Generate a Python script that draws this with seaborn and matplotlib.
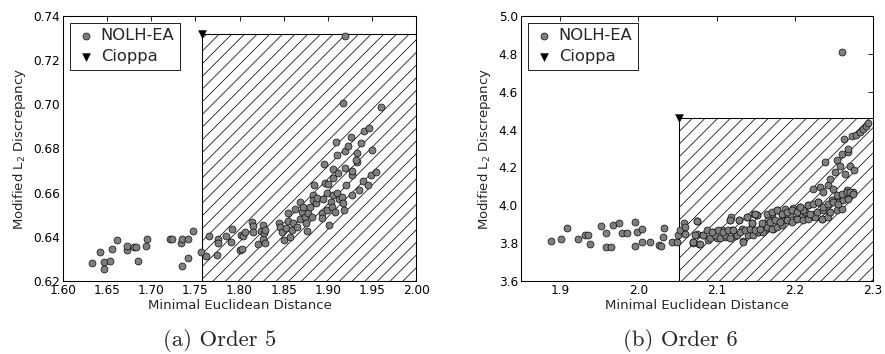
import matplotlib
matplotlib.use("Agg")
import matplotlib.pyplot as plt
import seaborn as sns
import pandas as pd

# ---------------- data ----------------
# (a) Order 5
nolh5_x = [1.633, 1.642, 1.647, 1.647, 1.653, 1.655, 1.661, 1.672, 1.673, 1.680, 1.683, 1.685,
           1.694, 1.695, 1.721, 1.723, 1.734, 1.735, 1.735, 1.742, 1.742, 1.747, 1.756, 1.762,
           1.766, 1.7745, 1.7756, 1.776, 1.7843, 1.790, 1.791, 1.800, 1.802, 1.8025, 1.8036,
           1.806, 1.8138, 1.8157, 1.8157, 1.8213, 1.824, 1.8263, 1.8263, 1.8278, 1.829, 1.829,
           1.845, 1.846, 1.8478, 1.8508, 1.853, 1.8546, 1.8553, 1.857, 1.859, 1.861, 1.863,
           1.865, 1.868, 1.8686, 1.8705, 1.8723, 1.874, 1.875, 1.876, 1.878, 1.880, 1.882,
           1.883, 1.8836, 1.8845, 1.8866, 1.888, 1.893, 1.894, 1.8946, 1.8958, 1.8965, 1.8986,
           1.8996, 1.9006, 1.9018, 1.9033, 1.9045, 1.9056, 1.9056, 1.9063, 1.9083, 1.9093,
           1.9101, 1.911, 1.912, 1.913, 1.9158, 1.9176, 1.919, 1.920, 1.9185, 1.9207, 1.9226,
           1.9263, 1.9272, 1.928, 1.928, 1.9328, 1.9335, 1.9358, 1.938, 1.9403, 1.941, 1.946,
           1.949, 1.9498, 1.9547, 1.920, 1.9176, 1.960, 1.947, 1.932]
nolh5_y = [0.6283, 0.6330, 0.6285, 0.6256, 0.6290, 0.6346, 0.6387, 0.6340, 0.6357, 0.6354,
           0.6354, 0.6290, 0.6360, 0.6389, 0.6390, 0.6390, 0.6371, 0.6392, 0.6268, 0.6304,
           0.6392, 0.6425, 0.6330, 0.6313, 0.6404, 0.6318, 0.6389, 0.6370, 0.6404, 0.6377,
           0.6434, 0.6340, 0.6408, 0.6345, 0.6404, 0.6423, 0.6467, 0.6449, 0.6423, 0.6368,
           0.6426, 0.6455, 0.6389, 0.6416, 0.6371, 0.6431, 0.6461, 0.6443, 0.6423, 0.6386,
           0.6439, 0.6473, 0.6506, 0.6398, 0.6431, 0.6464, 0.6528, 0.6446, 0.6558, 0.6479,
           0.6514, 0.6537, 0.6489, 0.6464, 0.6428, 0.6507, 0.6537, 0.6489, 0.6590, 0.6567,
           0.6635, 0.6555, 0.6575, 0.6510, 0.6484, 0.6570, 0.6728, 0.6643, 0.6597, 0.6521,
           0.6638, 0.6454, 0.6559, 0.6534, 0.6706, 0.6665, 0.6590, 0.6514, 0.6831, 0.6597,
           0.6771, 0.6691, 0.6570, 0.6582, 0.6555, 0.6711, 0.6790, 0.6521, 0.6635, 0.6813,
           0.6854, 0.6680, 0.6700, 0.6590, 0.6740, 0.6781, 0.6612, 0.6824, 0.6654, 0.6880,
           0.6635, 0.6680, 0.6793, 0.6695, 0.7310, 0.7008, 0.6987, 0.6893, 0.6750]
cioppa5_x = [1.757]
cioppa5_y = [0.7318]

# (b) Order 6
nolh6_x = [1.8884, 1.9015, 1.9084, 1.9229, 1.9322, 1.9357, 1.9386, 1.9519, 1.9587, 1.9583,
           1.9655, 1.968, 1.9749, 1.9791, 1.9851, 1.9957, 1.9961, 1.9987, 2.0043, 2.0043,
           2.0149, 2.026, 2.029, 2.0333, 2.032, 2.0434, 2.049, 2.0507, 2.0533, 2.0588, 2.0597,
           2.0597, 2.0703, 2.0746, 2.0746,
           2.0754, 2.0725, 2.0703, 2.078, 2.083, 2.0894, 2.0958, 2.1002, 2.1066, 2.1108, 2.1172,
           2.1181, 2.1194, 2.1236, 2.1291, 2.1322, 2.1334, 2.1385, 2.1419, 2.145, 2.1479, 2.1513,
           2.1534, 2.1577, 2.162, 2.1661, 2.1705, 2.1725, 2.1769, 2.179, 2.1833, 2.1875, 2.1897,
           2.1939, 2.1981, 2.2016, 2.2067, 2.2089, 2.2131, 2.2173, 2.2195, 2.2229, 2.2259,
           2.2301, 2.2323, 2.2344, 2.2365, 2.2387, 2.2408, 2.2429, 2.245, 2.2472, 2.2493,
           2.2514, 2.2536, 2.2557, 2.2578, 2.26, 2.2613, 2.263, 2.2642, 2.2664, 2.2685, 2.2706,
           2.2728, 2.2741, 2.2757, 2.2783, 2.2834, 2.2876, 2.2911, 2.294, 2.2685, 2.2608,
           2.0704, 2.0789, 2.0831, 2.0917, 2.0981, 2.1044, 2.1108, 2.1172, 2.1257, 2.1334,
           2.1407, 2.1470, 2.1534, 2.1598,
           2.0874, 2.0938, 2.1023, 2.1087, 2.1151, 2.1215, 2.1300, 2.1364, 2.1428, 2.1492,
           2.1556, 2.1641, 2.1705, 2.1769, 2.1833,
           2.1172, 2.1291, 2.1385, 2.1449, 2.1513, 2.1577, 2.1683, 2.1747, 2.1811, 2.1897,
           2.1961, 2.2024, 2.2110, 2.2173, 2.2259, 2.2344, 2.2429,
           2.1492, 2.1641, 2.1705, 2.1769, 2.1833, 2.1897, 2.1961, 2.2024, 2.2110, 2.2195,
           2.2280, 2.2365, 2.2450, 2.2535, 2.2600,
           2.2067, 2.2173, 2.2237, 2.2301, 2.2365, 2.2429, 2.2493, 2.2557, 2.2621, 2.2685,
           2.2535, 2.2600, 2.2663, 2.2706, 2.2748]
nolh6_y = [3.8105, 3.8226, 3.879, 3.8245, 3.842, 3.842, 3.793, 3.891, 3.851, 3.777,
           3.7805, 3.8947, 3.907, 3.8526, 3.854, 3.9105, 3.784, 3.8614, 3.877, 3.8035,
           3.8035, 3.789, 3.786, 3.8807, 3.83, 3.807, 3.807, 3.842, 3.868, 3.907, 3.886,
           3.846, 3.8035, 3.916, 3.846,
           3.917, 3.842, 3.8016, 3.798, 3.842, 3.819, 3.8595, 3.8247, 3.868, 3.83, 3.921,
           3.938, 3.868, 3.837, 3.921, 3.877, 3.812, 3.938, 3.851, 3.904, 3.953, 3.947,
           3.859, 3.886, 3.868, 3.93, 3.953, 3.877, 3.974, 3.912, 3.947, 3.983, 3.921,
           3.956, 3.988, 3.93, 3.991, 3.947, 3.965, 4.0, 3.938, 4.088, 3.956,
           4.017, 4.096, 3.93, 4.07, 4.228, 3.974, 4.105, 4.14, 4.026, 4.088,
           4.175, 4.237, 4.017, 4.21, 4.272, 4.053, 4.351, 4.167, 4.079, 4.281, 4.21,
           4.368, 4.07, 4.184, 4.372, 4.386, 4.404, 4.421, 4.433, 4.298, 4.81,
           3.807, 3.798, 3.842, 3.825, 3.842, 3.825, 3.842, 3.825, 3.842, 3.807,
           3.842, 3.842, 3.859, 3.859,
           3.869, 3.859, 3.869, 3.859, 3.869, 3.869, 3.859, 3.869, 3.877, 3.869,
           3.877, 3.886, 3.877, 3.886, 3.895,
           3.921, 3.921, 3.939, 3.904, 3.947, 3.904, 3.913, 3.921, 3.913, 3.921,
           3.913, 3.930, 3.921, 3.930, 3.939, 3.930, 3.939,
           3.956, 3.956, 3.965, 3.974, 3.956, 3.965, 3.974, 3.965, 3.974, 3.956,
           3.965, 3.974, 3.965, 3.974, 3.982,
           3.991, 4.000, 4.009, 4.017, 3.991, 4.009, 4.017, 4.009, 4.026, 4.035,
           4.053, 4.061, 4.070, 4.070, 4.061]
cioppa6_x = [2.052]
cioppa6_y = [4.46]

xticks5 = [1.60, 1.65, 1.70, 1.75, 1.80, 1.85, 1.90, 1.95, 2.00]
yticks5 = [0.62, 0.64, 0.66, 0.68, 0.70, 0.72, 0.74]
xticks6 = [1.9, 2.0, 2.1, 2.2, 2.3]
yticks6 = [3.6, 3.8, 4.0, 4.2, 4.4, 4.6, 4.8, 5.0]

captions = ["(a) Order 5", "(b) Order 6"]

# ---------------- style ----------------
sns.set_theme(style="white")
DPI = 76
plt.rcParams.update({
    "font.family": ["DejaVu Sans"],
    "axes.edgecolor": "black",
    "axes.linewidth": 1.0,
    "xtick.direction": "in",
    "ytick.direction": "in",
    "xtick.top": True,
    "ytick.right": True,
    "xtick.major.size": 5,
    "ytick.major.size": 5,
    "xtick.major.width": 0.8,
    "ytick.major.width": 0.8,
    "xtick.color": "black",
    "ytick.color": "black",
    "xtick.labelsize": 11.5,
    "ytick.labelsize": 11.5,
    "axes.labelsize": 12.5,
    "hatch.linewidth": 0.7,
    "hatch.color": "black",
})

fig = plt.figure(figsize=(885 / DPI, 354 / DPI), dpi=DPI)
W, H = 885, 354
ax1 = fig.add_axes([63 / W, 1 - 281 / H, (416 - 63) / W, (281 - 16) / H])
ax2 = fig.add_axes([521 / W, 1 - 281 / H, (873 - 521) / W, (281 - 16) / H])


def panel(ax, nx, ny, cx, cy, xlim, ylim, xt, yt, xfmt, yfmt):
    df = pd.DataFrame({"x": nx, "y": ny})
    # hatched dominance region
    ax.fill_between([cx[0], xlim[1]], ylim[0], cy[0], facecolor="white",
                    edgecolor="black", hatch="//", linewidth=1.0, zorder=1)
    sns.scatterplot(data=df, x="x", y="y", ax=ax, marker="o", s=44,
                    color="#7f7f7f", edgecolor="black", linewidth=0.6,
                    label="NOLH-EA", zorder=3)
    dfc = pd.DataFrame({"x": cx, "y": cy})
    sns.scatterplot(data=dfc, x="x", y="y", ax=ax, marker="v", s=55,
                    color="black", edgecolor="black", linewidth=0.5,
                    label="Cioppa", zorder=4, clip_on=False)
    ax.set_xlim(*xlim)
    ax.set_ylim(*ylim)
    ax.set_xticks(xt)
    ax.set_yticks(yt)
    ax.set_xticklabels([xfmt.format(v) for v in xt])
    ax.set_yticklabels([yfmt.format(v) for v in yt])
    ax.tick_params(pad=3)
    ax.set_xlabel("Minimal Euclidean Distance", labelpad=2)
    ax.set_ylabel("Modified L$_2$ Discrepancy", labelpad=5)
    leg = ax.legend(loc="upper left", frameon=True, fancybox=False, framealpha=1,
                    edgecolor="black", fontsize=15.5, borderaxespad=0.4,
                    handletextpad=0.25, borderpad=0.35, labelspacing=0.35,
                    scatterpoints=1, handlelength=1.3)
    leg.get_frame().set_linewidth(0.8)
    for sp in ax.spines.values():
        sp.set_zorder(5)


panel(ax1, nolh5_x, nolh5_y, cioppa5_x, cioppa5_y, (1.60, 2.00), (0.62, 0.74),
      xticks5, yticks5, "{:.2f}", "{:.2f}")
panel(ax2, nolh6_x, nolh6_y, cioppa6_x, cioppa6_y, (1.85, 2.30), (3.6, 5.0),
      xticks6, yticks6, "{:.1f}", "{:.1f}")

fig.text(220 / W, 1 - 340 / H, captions[0], ha="center", va="center",
         family="cmr10", fontsize=21.5)
fig.text(680 / W, 1 - 340 / H, captions[1], ha="center", va="center",
         family="cmr10", fontsize=21.5)

fig.savefig("out.png", dpi=DPI)
